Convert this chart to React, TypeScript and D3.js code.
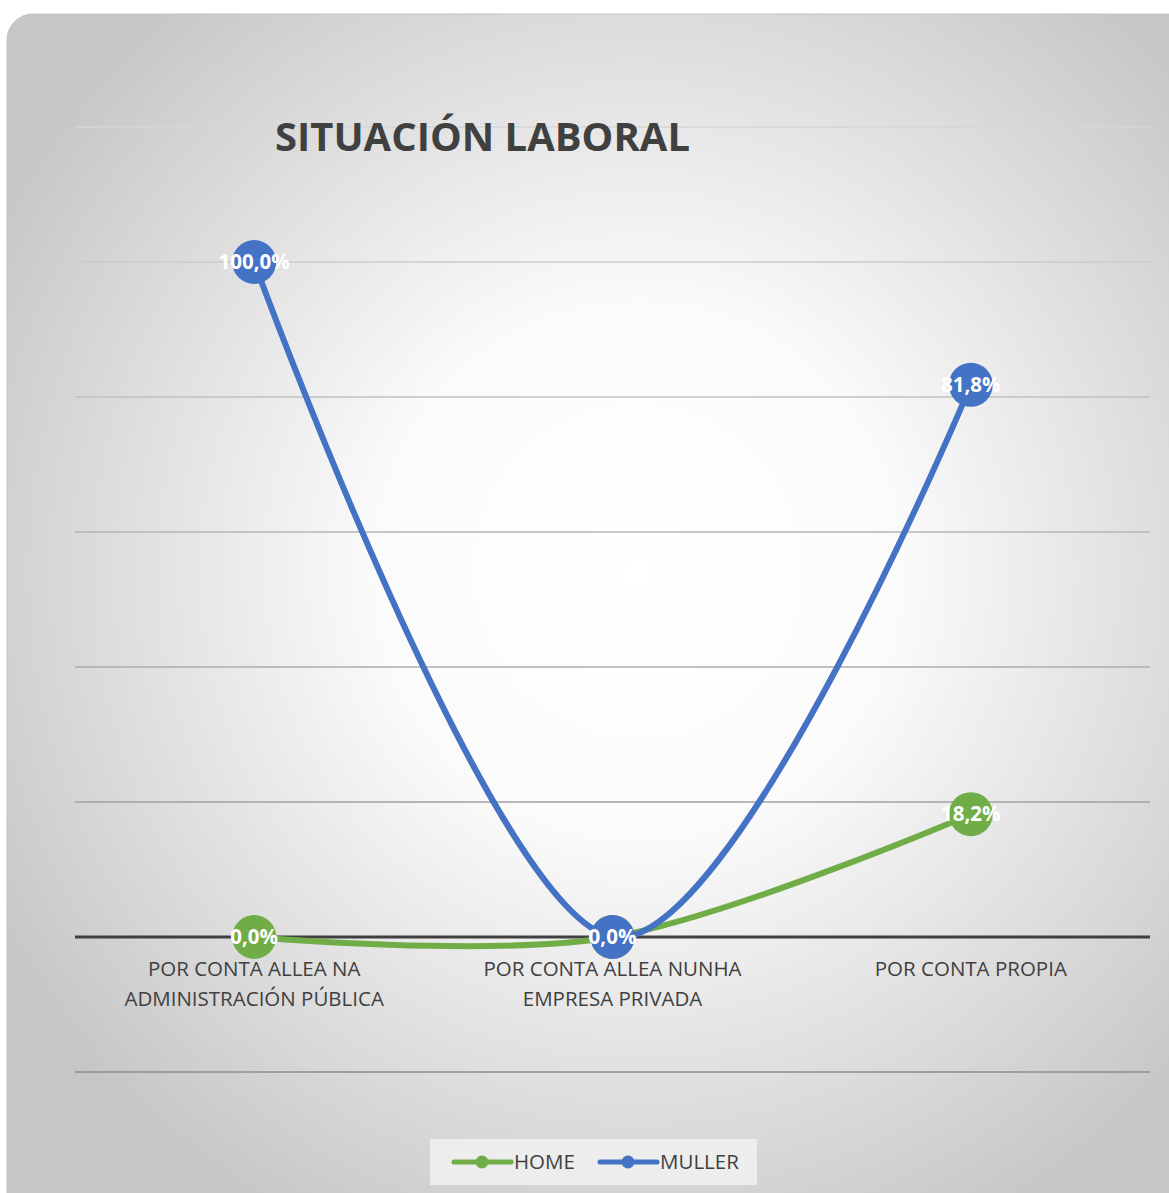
import React from "react";
import * as d3 from "d3";

const categories: string[][] = [
  ["POR CONTA ALLEA NA", "ADMINISTRACIÓN PÚBLICA"],
  ["POR CONTA ALLEA NUNHA", "EMPRESA PRIVADA"],
  ["POR CONTA PROPIA"],
];
const homeValues = [0, 0, 18.2];
const mullerValues = [100, 0, 81.8];
const seriesNames = ["HOME", "MULLER"];
const seriesColors = ["#70ad47", "#4472c4"];
const gridTicks = [-20, 0, 20, 40, 60, 80, 100, 120];
const title = "SITUACIÓN LABORAL";

const W = 1169;
const H = 1193;
const FONT = "'Open Sans', 'Noto Sans', sans-serif";

export default function App() {
  const x = d3
    .scaleBand<number>()
    .domain(categories.map((_, i) => i))
    .range([75, 1150]);
  const y = d3.scaleLinear().domain([-20, 120]).range([1072, 127]);
  const cx = (i: number) => (x(i) as number) + x.bandwidth() / 2;

  const line = d3
    .line<number>()
    .x((_, i) => cx(i))
    .y((d) => y(d))
    .curve(d3.curveCatmullRom.alpha(0));

  const series = [homeValues, mullerValues];
  const gridColor = d3.scaleLinear<string>().domain([120, -20]).range(["#d6d6d6", "#8c8c8c"]);

  return (
    <svg width={W} height={H} style={{ position: "absolute", left: 0, top: 0 }}>
      <defs>
        <radialGradient id="bg" cx="53%" cy="46%" r="62%">
          <stop offset="0%" stopColor="#ffffff" />
          <stop offset="35%" stopColor="#fbfbfb" />
          <stop offset="100%" stopColor="#c6c6c6" />
        </radialGradient>
      </defs>
      <rect x={0} y={0} width={W} height={H} fill="#ffffff" />
      <rect x={7} y={14} width={1190} height={1210} rx={26} fill="url(#bg)" stroke="#c4c4c4" strokeWidth={1} />

      {gridTicks.filter((t) => t !== 0).map((t) => (
        <line key={t} x1={75} x2={1150} y1={y(t)} y2={y(t)} stroke={gridColor(t)} strokeWidth={1.3} />
      ))}
      <line x1={75} x2={1150} y1={y(0)} y2={y(0)} stroke="#3f3f3f" strokeWidth={3} />

      <text x={275} y={151} fontFamily={FONT} fontWeight="bold" fontSize={40} fill="#404040" textLength={415} lengthAdjust="spacingAndGlyphs">
        {title}
      </text>

      {categories.map((lines, i) => (
        <text key={i} textAnchor="middle" fontFamily={FONT} fontSize={20.5} fill="#404040">
          {lines.map((l, j) => (
            <tspan key={j} x={cx(i)} y={976 + j * 30}>
              {l}
            </tspan>
          ))}
        </text>
      ))}

      {series.map((vals, s) => (
        <path key={s} d={line(vals) || ""} fill="none" stroke={seriesColors[s]} strokeWidth={6} strokeLinecap="round" />
      ))}
      {series.map((vals, s) =>
        vals.map((v, i) => (
          <g key={`${s}-${i}`}>
            <circle cx={cx(i)} cy={y(v)} r={22} fill={seriesColors[s]} />
            <text
              x={cx(i)}
              y={y(v) + 7}
              textAnchor="middle"
              fontFamily={FONT}
              fontWeight="bold"
              fontSize={20.5}
              fill="#ffffff"
            >
              {v.toFixed(1).replace(".", ",") + "%"}
            </text>
          </g>
        ))
      )}

      <rect x={430} y={1139} width={327} height={46} fill="#ededed" />
      {seriesNames.map((name, s) => {
        const lx = s === 0 ? 454 : 600;
        return (
          <g key={name}>
            <line x1={lx} x2={lx + 57} y1={1162} y2={1162} stroke={seriesColors[s]} strokeWidth={5} strokeLinecap="round" />
            <circle cx={lx + 28} cy={1162} r={6.5} fill={seriesColors[s]} />
            <text x={lx + 60} y={1169} fontFamily={FONT} fontSize={20.5} fill="#404040">
              {name}
            </text>
          </g>
        );
      })}
    </svg>
  );
}
